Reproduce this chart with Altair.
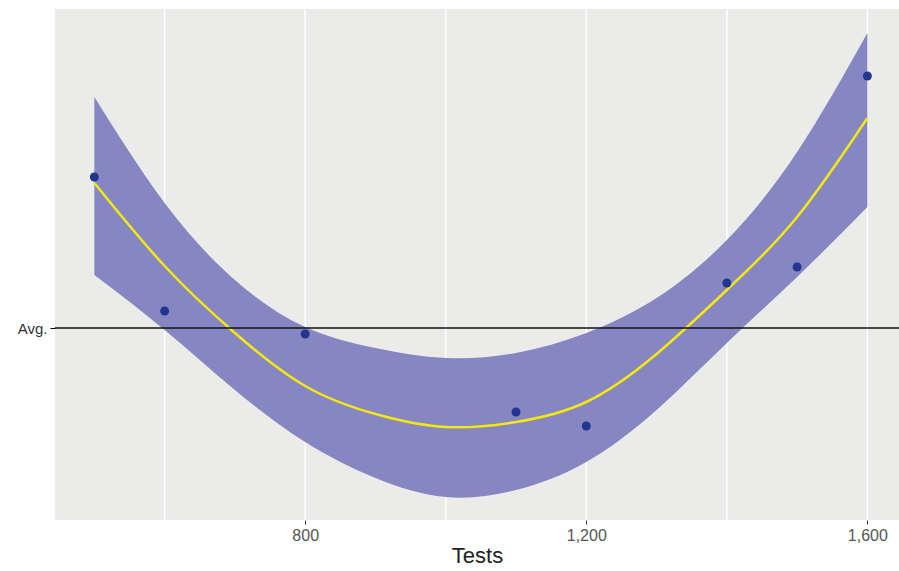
import altair as alt
import pandas as pd

# fitted curve & confidence band read at these test counts
curve_x = [500, 600, 700, 800, 900, 1000, 1100, 1200, 1300, 1400, 1500, 1600]
fit_y   = [33.7, 25.4, 18.7, 13.4, 10.6, 9.3, 9.8, 11.8, 16.6, 23.0, 30.3, 40.2]
upper_y = [42.3, 31.7, 24.0, 19.3, 17.2, 16.2, 16.7, 18.7, 22.2, 28.0, 36.8, 48.7]
lower_y = [24.5, 19.0, 13.0, 7.8, 4.2, 2.3, 3.0, 5.8, 11.0, 17.7, 24.3, 31.3]

# observed points
pts_x = [500, 600, 800, 1100, 1200, 1400, 1500, 1600]
pts_y = [34.3, 20.9, 18.6, 10.8, 9.4, 23.7, 25.3, 44.4]

avg_value = 19.2
grid_x = [600, 800, 1000, 1200, 1400, 1600]
tick_x = [800, 1200, 1600]

curve = pd.DataFrame({"x": curve_x, "fit": fit_y, "upper": upper_y, "lower": lower_y})
pts = pd.DataFrame({"x": pts_x, "y": pts_y})
grid = pd.DataFrame({"x": grid_x})
avg = pd.DataFrame({"y": [avg_value]})

xscale = alt.Scale(domain=[444, 1645], nice=False, zero=False)
yscale = alt.Scale(domain=[0, 51.1], nice=False, zero=False)

xaxis = alt.Axis(values=tick_x, format=",d", grid=False, domain=False,
                 tickColor="#333333", tickSize=4, labelColor="#555555",
                 labelFontSize=16, labelPadding=3, labelFont="Liberation Sans",
                 title="Tests", titleFontSize=22, titleFontWeight="normal",
                 titleColor="#222222", titleFont="Liberation Sans", titlePadding=2)
yaxis = alt.Axis(values=[avg_value], labelExpr="'Avg.'", grid=False, domain=False,
                 tickColor="#000000", tickSize=5, labelColor="#333333",
                 labelFontSize=15, labelPadding=3, labelFont="Liberation Sans",
                 title=None)

gridlines = alt.Chart(grid).mark_rule(color="white", strokeWidth=1.5).encode(
    x=alt.X("x:Q", scale=xscale, axis=xaxis)
)

band = alt.Chart(curve).mark_area(color="#8686c2", opacity=1, interpolate="natural").encode(
    x=alt.X("x:Q", scale=xscale),
    y=alt.Y("upper:Q", scale=yscale, axis=yaxis),
    y2="lower:Q",
)

fit = alt.Chart(curve).mark_line(color="#f5e812", strokeWidth=2.5, interpolate="natural").encode(
    x=alt.X("x:Q", scale=xscale),
    y=alt.Y("fit:Q", scale=yscale),
)

points = alt.Chart(pts).mark_point(filled=True, color="#22358f", size=80, opacity=1).encode(
    x=alt.X("x:Q", scale=xscale),
    y=alt.Y("y:Q", scale=yscale),
)

avg_line = alt.Chart(avg).mark_rule(color="#111111", strokeWidth=1.3).encode(
    y=alt.Y("y:Q", scale=yscale)
)

chart = alt.layer(gridlines, band, fit, points, avg_line).properties(
    width=844, height=511,
    padding={"left": 55, "top": 9, "right": 0, "bottom": 51},
    autosize=alt.AutoSizeParams(type="none"),
    background="white",
).configure_view(fill="#ebebea", stroke=None)

chart.save("out.html", embed_options={"renderer": "svg", "actions": False})
